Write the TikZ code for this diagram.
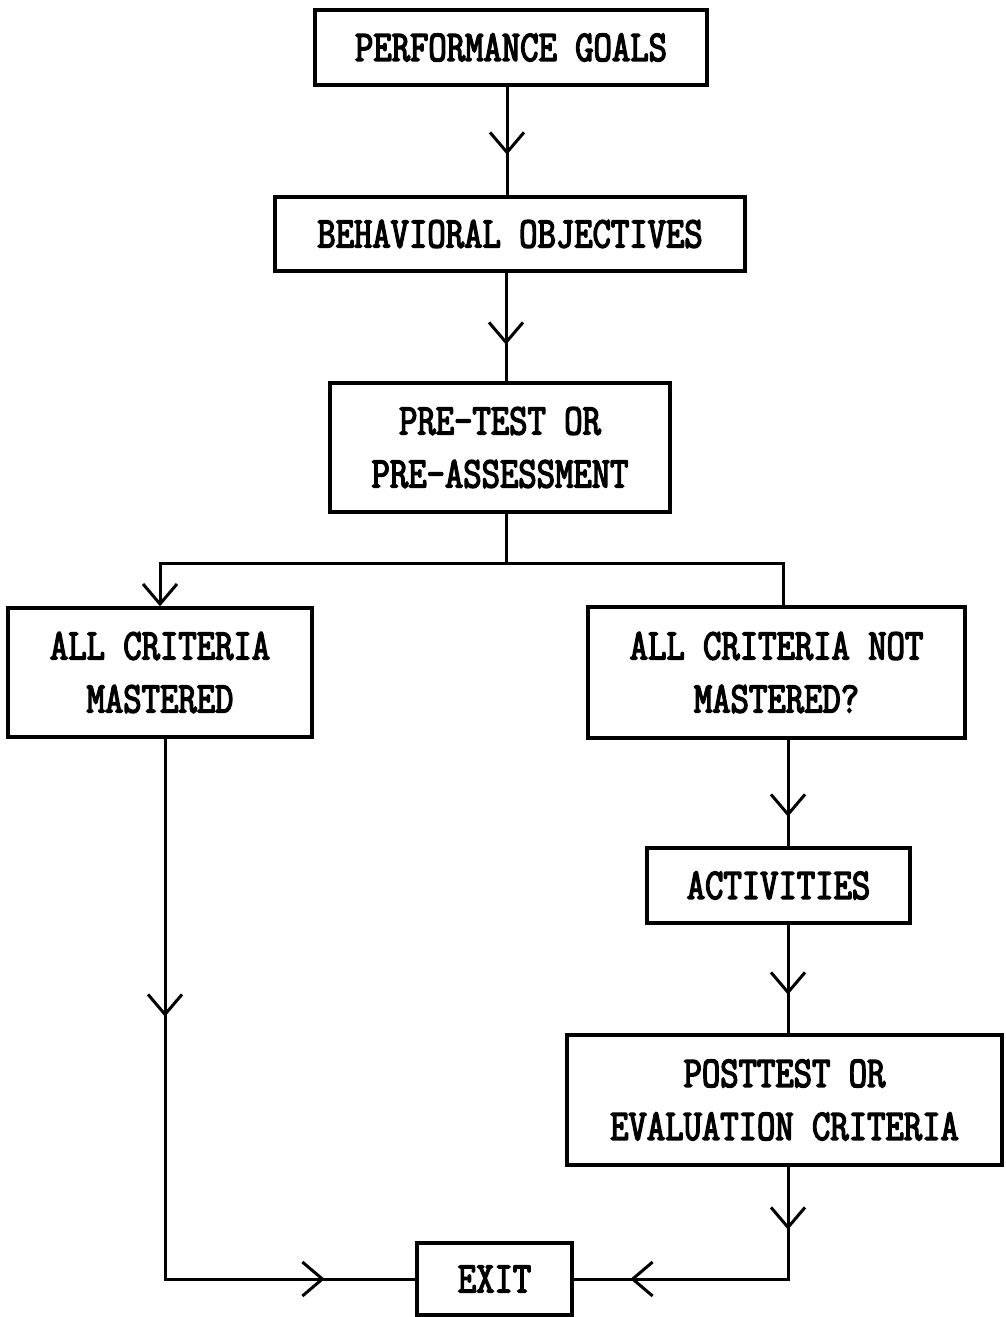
\documentclass[tikz,border=0pt]{standalone}
\usepackage{fontspec}
\usetikzlibrary{arrows.meta,decorations.markings}
\newfontfamily\twfont{Latin Modern Mono}[FakeBold=3.2, FakeStretch=0.81]
\tikzset{
  box/.style={draw, line width=3.4pt, inner sep=0pt, align=center,
    font=\twfont\fontsize{44}{53}\selectfont},
  conn/.style={line width=3pt},
  >={Straight Barb[length=20pt,width=34pt]},
  vmark/.style={postaction={decorate},
    decoration={markings, mark=at position #1 with {\arrow{>}}}},
  vmarktwo/.style 2 args={postaction={decorate},
    decoration={markings, mark=at position #1 with {\arrow{>}},
                          mark=at position #2 with {\arrow{>}}}}
}
\begin{document}
\begin{tikzpicture}[x=1pt,y=-1pt]
\useasboundingbox (0,0) rectangle (1005,1317);
\fill[white] (0,0) rectangle (1005,1317);

\node[box, minimum width=392pt, minimum height=75pt] (goals) at (511,47.5) {PERFORMANCE GOALS};
\node[box, minimum width=470pt, minimum height=74pt] (behav) at (510,234) {BEHAVIORAL OBJECTIVES};
\node[box, minimum width=340pt, minimum height=129pt] (pre) at (500,447.5) {PRE-TEST OR\\PRE-ASSESSMENT};
\node[box, minimum width=304pt, minimum height=129pt] (mast) at (160,672.5) {ALL CRITERIA\\MASTERED};
\node[box, minimum width=377pt, minimum height=131pt] (notm) at (776.5,672.5) {ALL CRITERIA NOT\\MASTERED?};
\node[box, minimum width=263pt, minimum height=75pt] (act) at (778.5,885.5) {ACTIVITIES};
\node[box, minimum width=435pt, minimum height=130pt] (post) at (784.5,1100) {POSTTEST OR\\EVALUATION CRITERIA};
\node[box, minimum width=155pt, minimum height=72pt] (exit) at (494.5,1279) {EXIT};

\coordinate (split) at (506,563);

% main chain
\draw[conn, vmark=68pt] ([xshift=-4pt]goals.south) -- ([xshift=-3pt]behav.north);
\draw[conn, vmark=72pt] ([xshift=-4pt]behav.south) -- ([xshift=6pt]pre.north);
\draw[conn] ([xshift=6pt]pre.south) -- (split);
\draw[conn, ->] (split) -| (mast.north);
\draw[conn] (split) -| ([xshift=6.5pt]notm.north);
\draw[conn, vmark=77pt] ([xshift=11.5pt]notm.south) -- ([xshift=9.5pt]act.north);
\draw[conn, vmark=70pt] ([xshift=9.5pt]act.south) -- ([xshift=3.5pt]post.north);

% to exit
\draw[conn, vmarktwo={63pt}{270pt}] ([xshift=3.5pt]post.south) |- (exit.east);
\draw[conn, vmarktwo={278pt}{700pt}] ([xshift=5pt]mast.south) |- (exit.west);
\end{tikzpicture}
\end{document}
